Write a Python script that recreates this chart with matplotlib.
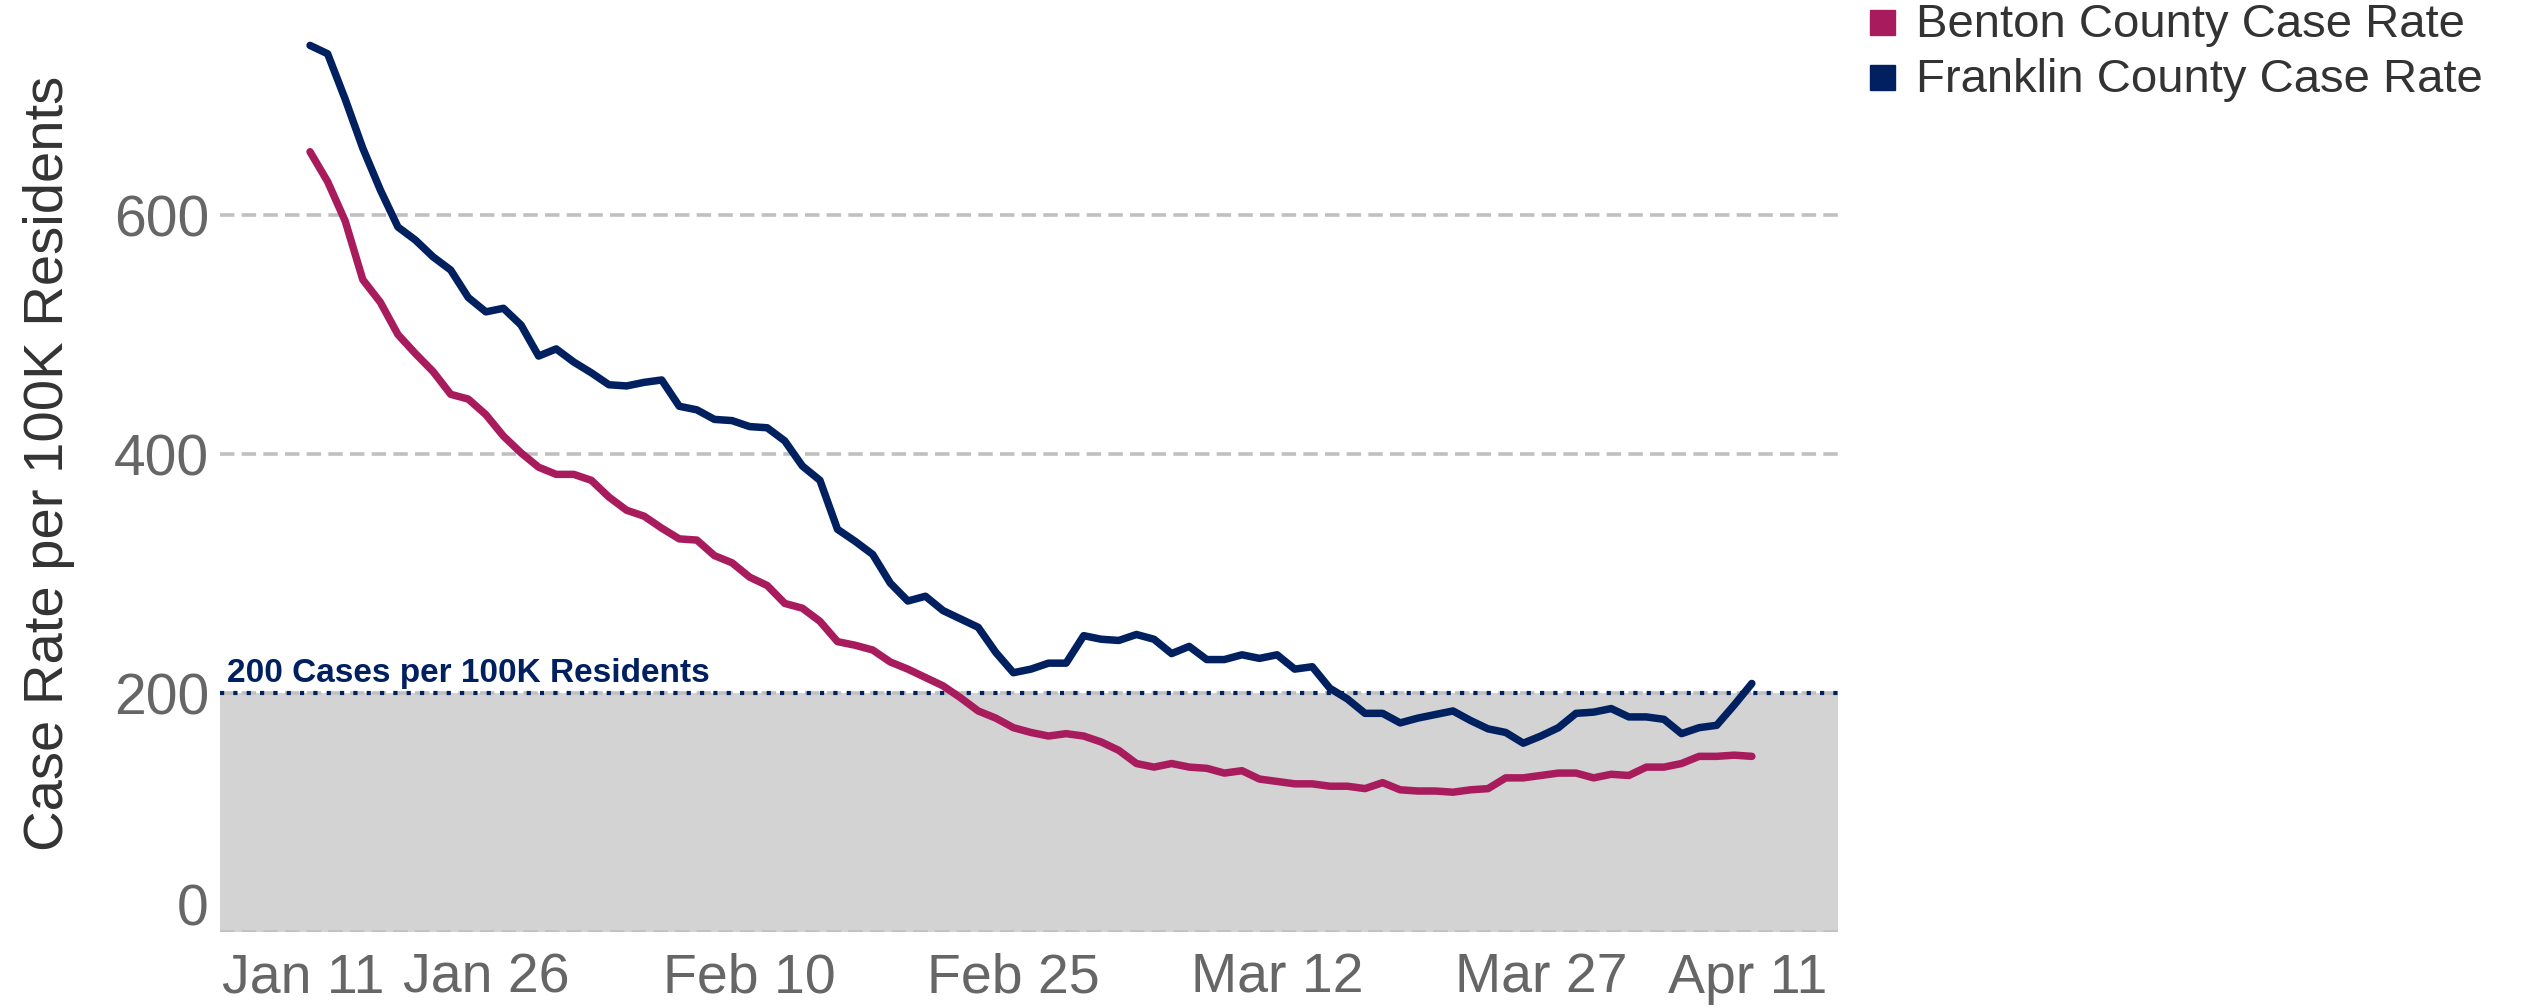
import matplotlib
matplotlib.use("Agg")
import matplotlib.pyplot as plt
import matplotlib.transforms as mtransforms
from matplotlib.patches import Rectangle
import pandas as pd

plt.rcParams['font.family'] = ['Liberation Sans', 'DejaVu Sans']

# ---------------- data ----------------
start_date = "2021-01-16"
benton = [653, 628, 595, 546, 527, 500, 484, 469, 450, 446,
          433, 415, 401, 389, 383, 383, 378, 364, 353, 348,
          338, 329, 328, 315, 309, 297, 290, 275, 271, 260,
          243, 240, 236, 226, 220, 213, 206, 196, 185, 179,
          171, 167, 164, 166, 164, 159, 152, 141, 138, 141,
          138, 137, 133, 135, 128, 126, 124, 124, 122, 122,
          120, 125, 119, 118, 118, 117, 119, 120, 129, 129,
          131, 133, 133, 129, 132, 131, 138, 138, 141, 147,
          147, 148, 147]
franklin = [742, 735, 697, 656, 621, 590, 579, 565, 554, 531,
            519, 522, 508, 482, 488, 477, 468, 458, 457, 460,
            462, 440, 437, 429, 428, 423, 422, 411, 390, 378,
            337, 327, 316, 292, 277, 281, 269, 262, 255, 234,
            217, 220, 225, 225, 248, 245, 244, 249, 245, 233,
            239, 228, 228, 232, 229, 232, 220, 222, 204, 195,
            183, 183, 175, 179, 182, 185, 177, 170, 167, 158,
            164, 171, 183, 184, 187, 180, 180, 178, 166, 171,
            173, 190, 208]
tick_dates = ["2021-01-11", "2021-01-26", "2021-02-10", "2021-02-25",
              "2021-03-12", "2021-03-27", "2021-04-11"]
tick_labels = ["Jan 11", "Jan 26", "Feb 10", "Feb 25", "Mar 12", "Mar 27", "Apr 11"]
y_ticks = [0, 200, 400, 600]
threshold = 200
threshold_label = "200 Cases per 100K Residents"
series_names = ["Benton County Case Rate", "Franklin County Case Rate"]
colors = ["#A81C5E", "#002060"]
y_label = "Case Rate per 100K Residents"

# ---------------- figure ----------------
W, H = 2521, 1008
fig = plt.figure(figsize=(W / 100, H / 100), dpi=100)
ax = fig.add_axes([220 / W, 76 / H, 1618 / W, 932 / H])

dates = pd.date_range(start_date, periods=len(benton), freq="D")

ax.axhspan(0, threshold, color="#D3D3D3", zorder=0, lw=0)
ax.set_axisbelow(True)
ax.grid(axis="y", color="#C0C0C0", linestyle=(0, (4, 2)), lw=2.6)
ax.grid(axis="x", visible=False)
ax.axhline(threshold, color="#002060", lw=3.0, linestyle=(0, (1.0, 2.2)), zorder=2)

for vals, c in zip([benton, franklin], colors):
    ax.plot(dates, vals, color=c, lw=5.4, solid_joinstyle="round",
            solid_capstyle="round", zorder=4)

ax.set_xlim(dates[0] - pd.Timedelta(days=5.12), dates[-1] + pd.Timedelta(days=4.9))
ax.set_ylim(0, 780)

for s in ax.spines.values():
    s.set_visible(False)

ax.set_yticks(y_ticks, labels=[str(v) for v in y_ticks])
ax.set_xticks(pd.to_datetime(tick_dates), labels=tick_labels)
ax.tick_params(axis="both", length=0, labelcolor="#666666")
ax.tick_params(axis="x", labelsize=40, pad=15)
ax.tick_params(axis="y", labelsize=41, pad=8)

xticks = ax.xaxis.get_major_ticks()
xticks[0].label1.set_ha("left")
xticks[-1].label1.set_ha("right")
xticks[-1].label1.set_transform(xticks[-1].label1.get_transform() +
                                mtransforms.ScaledTranslation(0.23, 0, fig.dpi_scale_trans))

zero_tick = ax.yaxis.get_major_ticks()[0]
zero_tick.label1.set_transform(zero_tick.label1.get_transform() +
                               mtransforms.ScaledTranslation(0, 0.27, fig.dpi_scale_trans))

ax.set_ylabel(y_label, fontsize=40.5, color="#333333")
ax.yaxis.set_label_coords(-0.0895, 0.503)

trans = mtransforms.blended_transform_factory(ax.transAxes, ax.transData)
ax.text(0.0043, 209, threshold_label, transform=trans, fontsize=24,
        fontweight="bold", color="#002060", ha="left", va="baseline")

# legend (manual)
for i, (name, c) in enumerate(zip(series_names, colors)):
    yc = 22.5 + 55 * i
    fig.patches.append(Rectangle((1870 / W, 1 - (yc + 12.5) / H), 25 / W, 25 / H,
                                 transform=fig.transFigure, color=c, figure=fig))
    fig.text(1916 / W, 1 - (37 + 55 * i) / H, name, fontsize=34,
             color="#333333", ha="left", va="baseline")

fig.savefig("out.png", dpi=100)
